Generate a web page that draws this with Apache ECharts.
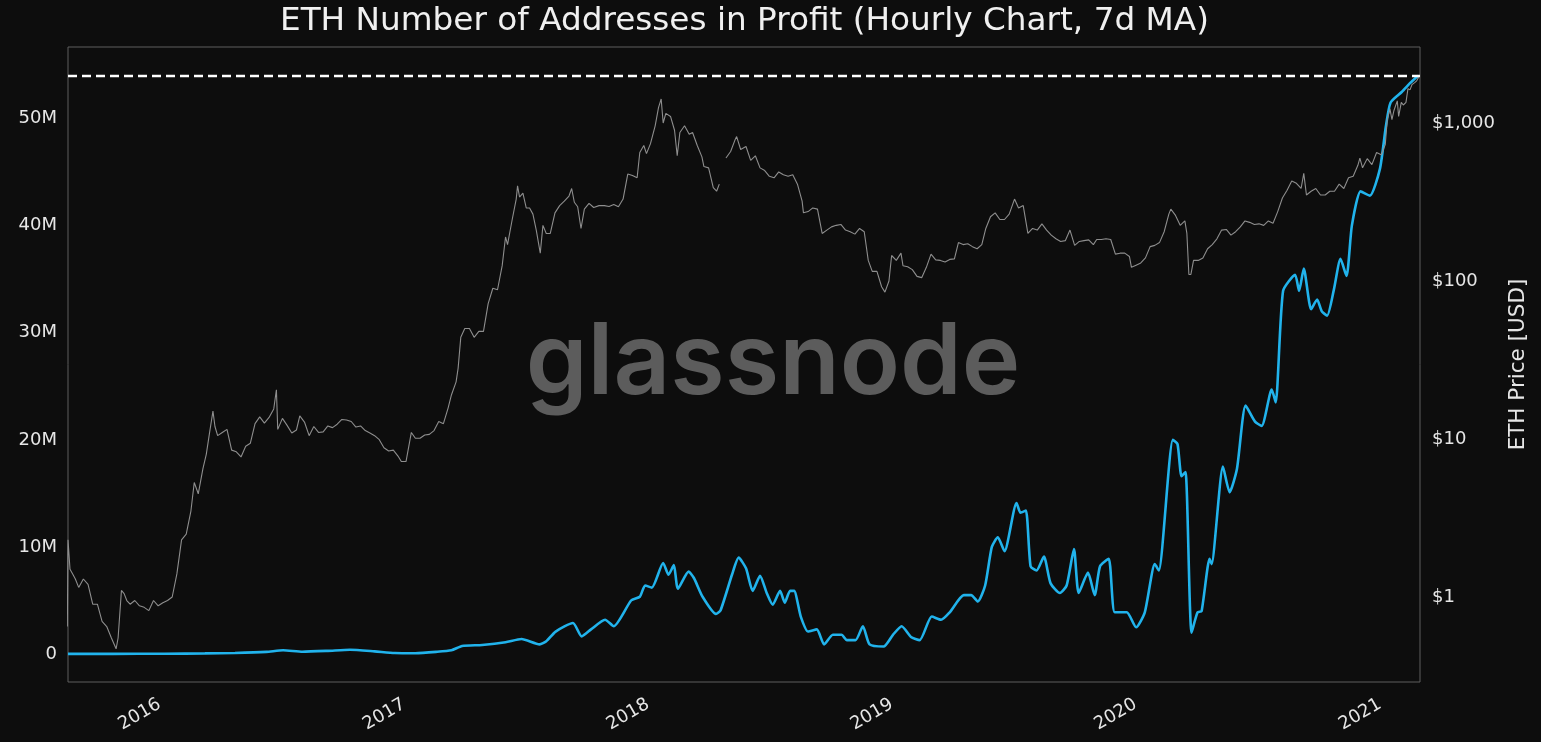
<!DOCTYPE html>
<html>
<head>
<meta charset="utf-8">
<title>ETH Number of Addresses in Profit</title>
<script src="https://cdn.jsdelivr.net/npm/echarts@6/dist/echarts.min.js"></script>
<style>
  html, body { margin: 0; padding: 0; background: #0d0d0d; }
  #chart { width: 1541px; height: 742px; }
</style>
</head>
<body>
<div id="chart"></div>
<script>
// addresses in profit, 7d MA, millions
var addressesInProfit = [
  ['2015-08-09', 0.02], ['2015-10-15', 0.02], ['2016-01-01', 0.03], ['2016-03-01', 0.06],
  ['2016-04-15', 0.1], ['2016-06-01', 0.2], ['2016-06-26', 0.35], ['2016-07-25', 0.22],
  ['2016-09-01', 0.3], ['2016-10-04', 0.4], ['2016-11-10', 0.25], ['2016-12-10', 0.1],
  ['2017-01-10', 0.08], ['2017-02-10', 0.2], ['2017-03-05', 0.35], ['2017-03-21', 0.75],
  ['2017-04-20', 0.85], ['2017-05-25', 1.1], ['2017-06-18', 1.4], ['2017-07-15', 0.9],
  ['2017-07-25', 1.2], ['2017-08-08', 2.1], ['2017-09-03', 2.9], ['2017-09-16', 1.65],
  ['2017-09-30', 2.3], ['2017-10-21', 3.2], ['2017-11-03', 2.6], ['2017-11-29', 5.0],
  ['2017-12-12', 5.35], ['2017-12-20', 6.4], ['2017-12-30', 6.2], ['2018-01-16', 8.5],
  ['2018-01-24', 7.4], ['2018-02-01', 8.3], ['2018-02-07', 6.1], ['2018-02-23', 7.7],
  ['2018-03-03', 7.1], ['2018-03-16', 5.35], ['2018-04-05', 3.75], ['2018-04-12', 4.1],
  ['2018-04-29', 7.4], ['2018-05-09', 9.0], ['2018-05-20', 8.0], ['2018-05-30', 5.9],
  ['2018-06-10', 7.3], ['2018-06-20', 5.7], ['2018-06-29', 4.6], ['2018-07-10', 5.9],
  ['2018-07-17', 4.8], ['2018-07-25', 5.9], ['2018-07-31', 5.9], ['2018-08-10', 3.5],
  ['2018-08-21', 2.1], ['2018-09-03', 2.3], ['2018-09-14', 0.9], ['2018-09-27', 1.8],
  ['2018-10-10', 1.8], ['2018-10-18', 1.3], ['2018-10-31', 1.3], ['2018-11-11', 2.6],
  ['2018-11-21', 0.9], ['2018-12-12', 0.7], ['2018-12-26', 1.8], ['2019-01-08', 2.6],
  ['2019-01-22', 1.6], ['2019-02-04', 1.3], ['2019-02-22', 3.5], ['2019-03-08', 3.2],
  ['2019-03-21', 3.9], ['2019-04-11', 5.5], ['2019-04-22', 5.5], ['2019-05-02', 4.9],
  ['2019-05-13', 6.4], ['2019-05-23', 10.0], ['2019-06-01', 10.9], ['2019-06-11', 9.6],
  ['2019-06-29', 14.1], ['2019-07-05', 13.2], ['2019-07-13', 13.4], ['2019-07-20', 8.2],
  ['2019-07-29', 7.8], ['2019-08-09', 9.1], ['2019-08-19', 6.6], ['2019-09-02', 5.7],
  ['2019-09-12', 6.4], ['2019-09-23', 9.8], ['2019-09-30', 5.7], ['2019-10-14', 7.6],
  ['2019-10-24', 5.5], ['2019-11-01', 8.2], ['2019-11-14', 8.9], ['2019-11-23', 3.9],
  ['2019-12-11', 3.9], ['2019-12-25', 2.5], ['2020-01-07', 3.9], ['2020-01-22', 8.4],
  ['2020-01-28', 7.8], ['2020-02-18', 20.0], ['2020-02-25', 19.6], ['2020-03-02', 16.6],
  ['2020-03-08', 17.0], ['2020-03-17', 2.0], ['2020-03-26', 3.9], ['2020-04-01', 4.0],
  ['2020-04-13', 8.9], ['2020-04-16', 8.4], ['2020-05-03', 17.5], ['2020-05-13', 15.1],
  ['2020-05-24', 17.3], ['2020-06-06', 23.2], ['2020-06-20', 21.7], ['2020-06-30', 21.3],
  ['2020-07-15', 24.7], ['2020-07-21', 23.5], ['2020-08-01', 33.9], ['2020-08-19', 35.4],
  ['2020-08-25', 33.9], ['2020-09-01', 36.0], ['2020-09-12', 32.2], ['2020-09-21', 33.1],
  ['2020-09-28', 32.0], ['2020-10-06', 31.6], ['2020-10-16', 34.0], ['2020-10-26', 36.9],
  ['2020-11-04', 35.3], ['2020-11-12', 40.0], ['2020-11-25', 43.2], ['2020-12-09', 42.8],
  ['2020-12-24', 45.3], ['2021-01-02', 49.3], ['2021-01-09', 51.5], ['2021-01-26', 52.5],
  ['2021-02-07', 53.3], ['2021-02-19', 54.0]
];

// ETH price, USD (null = gap in the feed)
var ethPrice = [
  ['2015-08-08', 0.65], ['2015-08-09', 2.3], ['2015-08-12', 1.5], ['2015-08-16', 1.4],
  ['2015-08-20', 1.3], ['2015-08-25', 1.15], ['2015-09-01', 1.3], ['2015-09-08', 1.2],
  ['2015-09-15', 0.9], ['2015-09-22', 0.9], ['2015-09-29', 0.7], ['2015-10-06', 0.65],
  ['2015-10-13', 0.55], ['2015-10-20', 0.47], ['2015-10-23', 0.55], ['2015-10-28', 1.1],
  ['2015-11-01', 1.05], ['2015-11-05', 0.95], ['2015-11-10', 0.9], ['2015-11-17', 0.95],
  ['2015-11-24', 0.88], ['2015-12-01', 0.86], ['2015-12-08', 0.82], ['2015-12-15', 0.95],
  ['2015-12-22', 0.88], ['2015-12-29', 0.92], ['2016-01-05', 0.95], ['2016-01-12', 1.0],
  ['2016-01-19', 1.4], ['2016-01-26', 2.3], ['2016-02-02', 2.5], ['2016-02-09', 3.5],
  ['2016-02-14', 5.3], ['2016-02-20', 4.5], ['2016-02-27', 6.5], ['2016-03-03', 8],
  ['2016-03-08', 11], ['2016-03-13', 15], ['2016-03-16', 12], ['2016-03-20', 10.5],
  ['2016-03-27', 11], ['2016-04-03', 11.5], ['2016-04-10', 8.5], ['2016-04-17', 8.3],
  ['2016-04-24', 7.7], ['2016-05-01', 9], ['2016-05-08', 9.4], ['2016-05-15', 12.5],
  ['2016-05-22', 13.8], ['2016-05-29', 12.6], ['2016-06-05', 13.7], ['2016-06-12', 15.5],
  ['2016-06-16', 20.5], ['2016-06-18', 11.5], ['2016-06-25', 13.5], ['2016-07-02', 12.2],
  ['2016-07-09', 10.9], ['2016-07-16', 11.4], ['2016-07-21', 14], ['2016-07-28', 12.8],
  ['2016-08-04', 10.5], ['2016-08-11', 12], ['2016-08-18', 11], ['2016-08-25', 11.1],
  ['2016-09-01', 12.1], ['2016-09-08', 11.8], ['2016-09-15', 12.4], ['2016-09-22', 13.3],
  ['2016-09-29', 13.2], ['2016-10-06', 12.9], ['2016-10-13', 11.9], ['2016-10-20', 12.1],
  ['2016-10-27', 11.3], ['2016-11-03', 10.9], ['2016-11-10', 10.5], ['2016-11-17', 9.9],
  ['2016-11-24', 8.8], ['2016-12-01', 8.4], ['2016-12-08', 8.5], ['2016-12-15', 7.8],
  ['2016-12-20', 7.2], ['2016-12-27', 7.2], ['2017-01-04', 11], ['2017-01-10', 10.1],
  ['2017-01-17', 10.1], ['2017-01-24', 10.6], ['2017-01-31', 10.7], ['2017-02-07', 11.3],
  ['2017-02-14', 12.9], ['2017-02-21', 12.5], ['2017-02-28', 15.7], ['2017-03-05', 19],
  ['2017-03-12', 23], ['2017-03-15', 28], ['2017-03-19', 44], ['2017-03-25', 50],
  ['2017-04-01', 50], ['2017-04-08', 44], ['2017-04-15', 48], ['2017-04-22', 48],
  ['2017-04-29', 72], ['2017-05-06', 90], ['2017-05-13', 88], ['2017-05-20', 125],
  ['2017-05-25', 190], ['2017-05-28', 170], ['2017-06-04', 245], ['2017-06-10', 330],
  ['2017-06-12', 400], ['2017-06-15', 340], ['2017-06-20', 360], ['2017-06-25', 290],
  ['2017-06-30', 290], ['2017-07-05', 265], ['2017-07-10', 210], ['2017-07-16', 150],
  ['2017-07-20', 225], ['2017-07-25', 200], ['2017-07-31', 200], ['2017-08-07', 270],
  ['2017-08-14', 300], ['2017-08-21', 320], ['2017-08-28', 345], ['2017-09-01', 385],
  ['2017-09-05', 315], ['2017-09-10', 295], ['2017-09-15', 215], ['2017-09-20', 285],
  ['2017-09-27', 310], ['2017-10-04', 292], ['2017-10-12', 300], ['2017-10-20', 300],
  ['2017-10-27', 296], ['2017-11-03', 305], ['2017-11-10', 295], ['2017-11-17', 330],
  ['2017-11-24', 475], ['2017-12-01', 465], ['2017-12-08', 450], ['2017-12-12', 650],
  ['2017-12-18', 720], ['2017-12-22', 640], ['2017-12-28', 740], ['2018-01-04', 960],
  ['2018-01-09', 1250], ['2018-01-13', 1420], ['2018-01-16', 1000], ['2018-01-20', 1150],
  ['2018-01-27', 1100], ['2018-02-02', 900], ['2018-02-06', 620], ['2018-02-10', 870],
  ['2018-02-17', 960], ['2018-02-24', 850], ['2018-03-01', 870], ['2018-03-08', 720],
  ['2018-03-15', 610], ['2018-03-18', 530], ['2018-03-25', 520], ['2018-04-01', 390],
  ['2018-04-06', 370], ['2018-04-10', 410], ['2018-04-15', null], ['2018-04-20', 600],
  ['2018-04-27', 660], ['2018-05-04', 790], ['2018-05-06', 820], ['2018-05-12', 680],
  ['2018-05-20', 710], ['2018-05-27', 580], ['2018-06-03', 620], ['2018-06-10', 520],
  ['2018-06-17', 500], ['2018-06-24', 460], ['2018-07-01', 450], ['2018-07-08', 490],
  ['2018-07-15', 470], ['2018-07-22', 460], ['2018-07-29', 470], ['2018-08-05', 410],
  ['2018-08-12', 320], ['2018-08-14', 270], ['2018-08-21', 275], ['2018-08-28', 290],
  ['2018-09-04', 285], ['2018-09-11', 200], ['2018-09-18', 210], ['2018-09-25', 220],
  ['2018-10-02', 225], ['2018-10-09', 228], ['2018-10-16', 210], ['2018-10-23', 205],
  ['2018-10-30', 198], ['2018-11-06', 215], ['2018-11-13', 205], ['2018-11-19', 135],
  ['2018-11-25', 115], ['2018-12-02', 115], ['2018-12-09', 92], ['2018-12-14', 85],
  ['2018-12-20', 100], ['2018-12-24', 145], ['2018-12-31', 135], ['2019-01-07', 150],
  ['2019-01-10', 125], ['2019-01-17', 123], ['2019-01-24', 118], ['2019-01-31', 107],
  ['2019-02-07', 105], ['2019-02-14', 122], ['2019-02-21', 148], ['2019-02-28', 136],
  ['2019-03-07', 135], ['2019-03-14', 132], ['2019-03-21', 137], ['2019-03-28', 138],
  ['2019-04-03', 175], ['2019-04-10', 170], ['2019-04-17', 172], ['2019-04-24', 165],
  ['2019-05-01', 160], ['2019-05-08', 170], ['2019-05-14', 215], ['2019-05-21', 255],
  ['2019-05-28', 270], ['2019-06-04', 245], ['2019-06-11', 245], ['2019-06-18', 265],
  ['2019-06-26', 330], ['2019-07-02', 290], ['2019-07-09', 300], ['2019-07-16', 200],
  ['2019-07-23', 215], ['2019-07-30', 210], ['2019-08-06', 230], ['2019-08-13', 210],
  ['2019-08-20', 195], ['2019-08-27', 185], ['2019-09-03', 178], ['2019-09-10', 180],
  ['2019-09-17', 210], ['2019-09-24', 168], ['2019-10-01', 178], ['2019-10-08', 180],
  ['2019-10-15', 182], ['2019-10-22', 170], ['2019-10-27', 183], ['2019-11-03', 183],
  ['2019-11-10', 185], ['2019-11-17', 183], ['2019-11-24', 148], ['2019-12-01', 150],
  ['2019-12-08', 150], ['2019-12-15', 143], ['2019-12-18', 122], ['2019-12-25', 126],
  ['2020-01-01', 130], ['2020-01-08', 140], ['2020-01-15', 165], ['2020-01-22', 168],
  ['2020-01-29', 175], ['2020-02-05', 205], ['2020-02-12', 265], ['2020-02-15', 285],
  ['2020-02-22', 260], ['2020-02-29', 225], ['2020-03-07', 240], ['2020-03-10', 200],
  ['2020-03-13', 110], ['2020-03-16', 110], ['2020-03-20', 135], ['2020-03-27', 135],
  ['2020-04-03', 140], ['2020-04-10', 160], ['2020-04-17', 170], ['2020-04-24', 185],
  ['2020-05-01', 210], ['2020-05-08', 212], ['2020-05-15', 195], ['2020-05-22', 205],
  ['2020-05-29', 220], ['2020-06-05', 240], ['2020-06-12', 235], ['2020-06-19', 228],
  ['2020-06-26', 230], ['2020-07-03', 225], ['2020-07-10', 240], ['2020-07-17', 232],
  ['2020-07-24', 275], ['2020-07-31', 335], ['2020-08-07', 375], ['2020-08-14', 430],
  ['2020-08-21', 415], ['2020-08-28', 385], ['2020-09-01', 480], ['2020-09-05', 350],
  ['2020-09-12', 370], ['2020-09-19', 385], ['2020-09-26', 350], ['2020-10-03', 350],
  ['2020-10-10', 370], ['2020-10-17', 370], ['2020-10-24', 410], ['2020-10-31', 385],
  ['2020-11-07', 450], ['2020-11-14', 460], ['2020-11-21', 540], ['2020-11-24', 600],
  ['2020-11-28', 520], ['2020-12-05', 595], ['2020-12-12', 545], ['2020-12-19', 650],
  ['2020-12-26', 630], ['2021-01-01', 730], ['2021-01-04', 1050], ['2021-01-08', 1230],
  ['2021-01-11', 1050], ['2021-01-14', 1200], ['2021-01-19', 1380], ['2021-01-21', 1100],
  ['2021-01-25', 1350], ['2021-01-28', 1300], ['2021-02-01', 1350], ['2021-02-04', 1650],
  ['2021-02-07', 1620], ['2021-02-10', 1750], ['2021-02-14', 1800], ['2021-02-17', 1850],
  ['2021-02-20', 1950]
];

var font = 'DejaVu Sans';
var textColor = '#e6e6e6';

var myChart = echarts.init(document.getElementById('chart'));

var option = {
  backgroundColor: '#0d0d0d',
  animation: false,
  title: {
    text: 'ETH Number of Addresses in Profit (Hourly Chart, 7d MA)',
    left: 275,
    top: 0,
    textStyle: { color: '#f0f0f0', fontFamily: font, fontSize: 32.7, fontWeight: 'normal' }
  },
  graphic: [{
    type: 'text',
    x: 773,
    y: 364,
    z: 0,
    silent: true,
    style: {
      text: 'glassnode',
      fill: '#5c5c5c',
      font: '600 99px Inter',
      textAlign: 'center',
      textVerticalAlign: 'middle'
    }
  }],
  grid: {
    left: 68, right: 121, top: 47, bottom: 60,
    show: true,
    backgroundColor: 'transparent',
    borderColor: '#5e5e5e',
    borderWidth: 1,
    outerBoundsMode: 'none'
  },
  xAxis: {
    type: 'time',
    min: '2015-08-09',
    max: '2021-02-22',
    splitNumber: 6,
    axisLine: { show: false },
    axisTick: { show: false },
    splitLine: { show: false },
    axisLabel: {
      rotate: 30,
      margin: 18,
      padding: [0, 6, 0, 0],
      color: textColor,
      fontFamily: font,
      fontSize: 18,
      showMinLabel: false,
      showMaxLabel: false,
      hideOverlap: false,
      formatter: function (v) {
        var d = new Date(v);
        return (d.getMonth() === 0 && d.getDate() === 1) ? String(d.getFullYear()) : '';
      }
    }
  },
  yAxis: [{
    type: 'value',
    min: -2.61,
    max: 56.68,
    splitNumber: 6,
    axisLine: { show: false },
    axisTick: { show: false },
    splitLine: { show: false },
    axisLabel: {
      margin: 11,
      color: textColor,
      fontFamily: font,
      fontSize: 18,
      showMinLabel: false,
      showMaxLabel: false,
      formatter: function (v) {
        if (Math.abs(v % 10) > 1e-6) return '';
        return v === 0 ? '0' : v + 'M';
      }
    }
  }, {
    type: 'log',
    logBase: 10,
    min: 0.2897,
    max: 3027,
    position: 'right',
    name: 'ETH Price [USD]',
    nameLocation: 'middle',
    nameRotate: 90,
    nameGap: 87,
    nameTextStyle: { color: textColor, fontFamily: font, fontSize: 21.5 },
    axisLine: { show: false },
    axisTick: { show: false },
    splitLine: { show: false },
    minorTick: { show: false },
    axisLabel: {
      margin: 12,
      color: textColor,
      fontFamily: font,
      fontSize: 18,
      showMinLabel: false,
      showMaxLabel: false,
      formatter: function (v) {
        var e = Math.log10(v);
        if (Math.abs(e - Math.round(e)) > 1e-6) return '';
        return '$' + Math.round(v).toLocaleString('en-US');
      }
    }
  }],
  series: [{
    name: 'Addresses in Profit',
    type: 'line',
    yAxisIndex: 0,
    data: addressesInProfit,
    showSymbol: false,
    smooth: 0.2,
    z: 3,
    lineStyle: { color: '#21b3ec', width: 2.6 },
    markLine: {
      silent: true,
      symbol: ['none', 'none'],
      label: { show: false },
      lineStyle: { color: '#ffffff', type: [9, 5], width: 2.4 },
      data: [{ type: 'max' }]
    }
  }, {
    name: 'ETH Price',
    type: 'line',
    yAxisIndex: 1,
    data: ethPrice,
    showSymbol: false,
    connectNulls: false,
    z: 4,
    lineStyle: { color: '#8e8e8e', width: 1.1 }
  }]
};

myChart.setOption(option);
</script>
</body>
</html>
